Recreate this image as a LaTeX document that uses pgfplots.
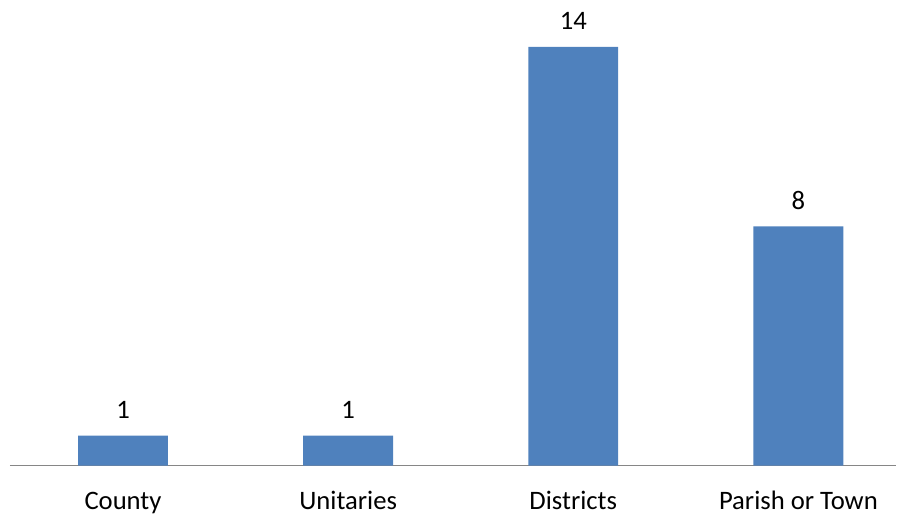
\documentclass[border=0pt]{standalone}
\usepackage{fontspec}
\setmainfont{Carlito}
\usepackage{pgfplots}
\pgfplotsset{compat=1.18}
\definecolor{barblue}{HTML}{4F81BD}
\definecolor{axisgray}{HTML}{868686}
\begin{document}
\begin{tikzpicture}
  \begin{axis}[
      scale only axis,
      width=665.25pt, height=349.5pt,
      ybar, bar width=67.5pt, bar shift=0pt,
      xmin=-0.502, xmax=3.435,
      ymin=0, ymax=15.57,
      axis x line*=bottom,
      axis y line=none,
      x axis line style={-, draw=axisgray, line width=1pt},
      xtick=data,
      xticklabels={County, Unitaries, Districts, Parish or Town},
      major tick length=0pt,
      xticklabel style={anchor=base, inner sep=0pt, yshift=-33pt,
        font=\fontsize{20}{24}\selectfont},
      nodes near coords,
      nodes near coords style={anchor=base, inner sep=0pt, yshift=13pt,
        font=\fontsize{20}{24}\selectfont, text=black},
      /pgf/number format/assume math mode=true,
      clip=false,
    ]
    \addplot[fill=barblue, draw=none] coordinates {
      (0, 1) (1, 1) (2, 14) (3, 8)
    };
    \coordinate (bl) at (rel axis cs:0,0);
    \coordinate (tr) at (rel axis cs:1,1);
  \end{axis}
  \useasboundingbox (bl) ++(-7.5pt,-36.75pt) rectangle (tr);
\end{tikzpicture}
\end{document}
